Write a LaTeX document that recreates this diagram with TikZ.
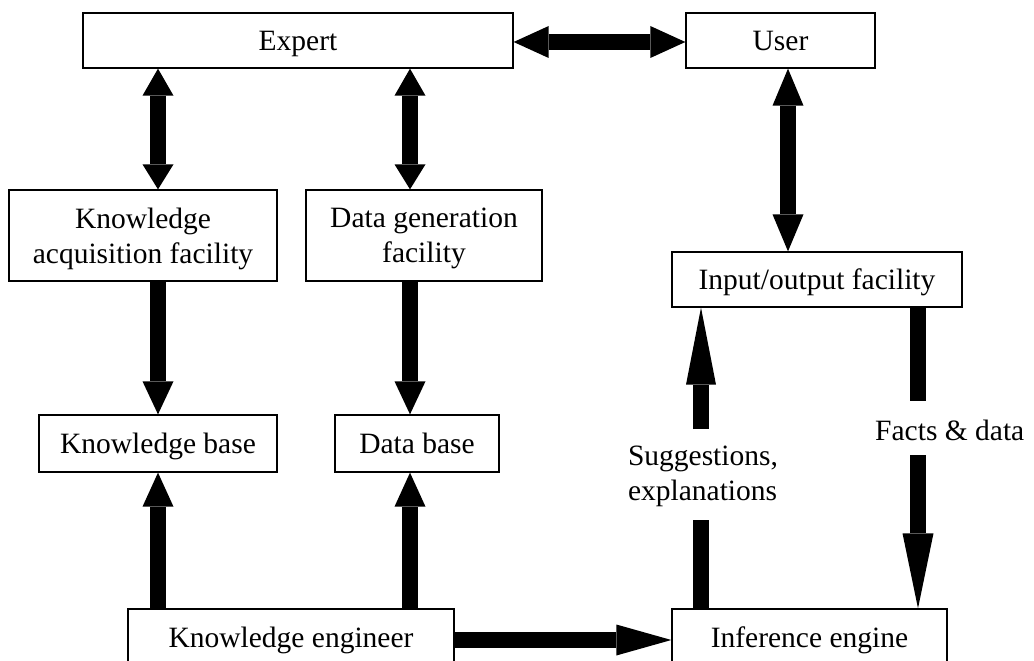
\documentclass[tikz,border=0pt]{standalone}
\usepackage{fontspec}
\setmainfont{Liberation Serif}
\usetikzlibrary{arrows.meta}
\begin{document}
\begin{tikzpicture}[x=1pt,y=-1pt,
  box/.style={draw=black,line width=1.3pt,inner sep=0pt,align=center,
    text depth=0pt,font=\fontsize{29.5}{35}\selectfont},
  lbl/.style={inner sep=0pt,align=left,font=\fontsize{29.5}{35}\selectfont},
  fat/.style={line width=16pt,line cap=butt,draw=black},
]
\useasboundingbox (0,0) rectangle (1034,661);
\clip (0,0) rectangle (1034,661);
% boxes
\node[box,minimum width=430pt,minimum height=55pt] (expert) at (298,40.5) {Expert};
\node[box,minimum width=189pt,minimum height=55pt] (user) at (780.5,40.5) {User};
\node[box,minimum width=268pt,minimum height=91pt] (kaf) at (143,235.5) {Knowledge\\acquisition facility};
\node[box,minimum width=236pt,minimum height=91pt] (dgf) at (424,235.5) {Data generation\\facility};
\node[box,minimum width=290pt,minimum height=55pt] (io) at (817,279.5) {Input/output facility};
\node[box,minimum width=238pt,minimum height=57pt] (kb) at (158,443.5) {Knowledge base};
\node[box,minimum width=164pt,minimum height=57pt] (db) at (417,443.5) {Data base};
\node[box,minimum width=326pt,minimum height=57pt] (ke) at (291,637.5) {Knowledge engineer};
\node[box,minimum width=275pt,minimum height=57pt] (ie) at (809.5,637.5) {Inference engine};
% labels
\node[lbl] (sugg) at (703,476) {Suggestions,\\explanations};
\node[lbl,anchor=west] (facts) at (875,430) {Facts \& data};
% x/y positions of arrows
\coordinate (c1) at (158,0);
\coordinate (c2) at (410,0);
\coordinate (c3) at (788,0);
\coordinate (c4) at (701,0);
\coordinate (c5) at (918,0);
\coordinate (r1) at (0,42);
\coordinate (r2) at (0,640);
\coordinate (s1) at (701,520);
\coordinate (s2) at (701,429);
\coordinate (f1) at (918,401);
\coordinate (f2) at (918,455);
% arrows
\draw[fat,{Triangle[length=35pt,width=32pt,line width=0pt]}-{Triangle[length=35pt,width=32pt,line width=0pt]}] (expert.east |- r1) -- (user.west |- r1);
\draw[fat,{Triangle[length=27pt,width=31pt,line width=0pt]}-{Triangle[length=25pt,width=31pt,line width=0pt]}] (expert.south -| c1) -- (kaf.north -| c1);
\draw[fat,{Triangle[length=27pt,width=31pt,line width=0pt]}-{Triangle[length=25pt,width=31pt,line width=0pt]}] (expert.south -| c2) -- (dgf.north -| c2);
\draw[fat,{Triangle[length=37pt,width=31pt,line width=0pt]}-{Triangle[length=37pt,width=31pt,line width=0pt]}] (user.south -| c3) -- (io.north -| c3);
\draw[fat,-{Triangle[length=33pt,width=31pt,line width=0pt]}] (kaf.south -| c1) -- (kb.north -| c1);
\draw[fat,-{Triangle[length=33pt,width=31pt,line width=0pt]}] (dgf.south -| c2) -- (db.north -| c2);
\draw[fat,-{Triangle[length=34pt,width=31pt,line width=0pt]}] (ke.north -| c1) -- (kb.south -| c1);
\draw[fat,-{Triangle[length=34pt,width=31pt,line width=0pt]}] (ke.north -| c2) -- (db.south -| c2);
\draw[fat,-{Triangle[length=55pt,width=31pt,line width=0pt]}] (ke.east |- r2) -- (ie.west |- r2);
\draw[fat] (ie.north -| c4) -- (s1);
\draw[fat,-{Triangle[length=77pt,width=30pt,line width=0pt]}] (s2) -- (io.south -| c4);
\draw[fat] (io.south -| c5) -- (f1);
\draw[fat,-{Triangle[length=75pt,width=31pt,line width=0pt]}] (f2) -- (ie.north -| c5);
\end{tikzpicture}
\end{document}
